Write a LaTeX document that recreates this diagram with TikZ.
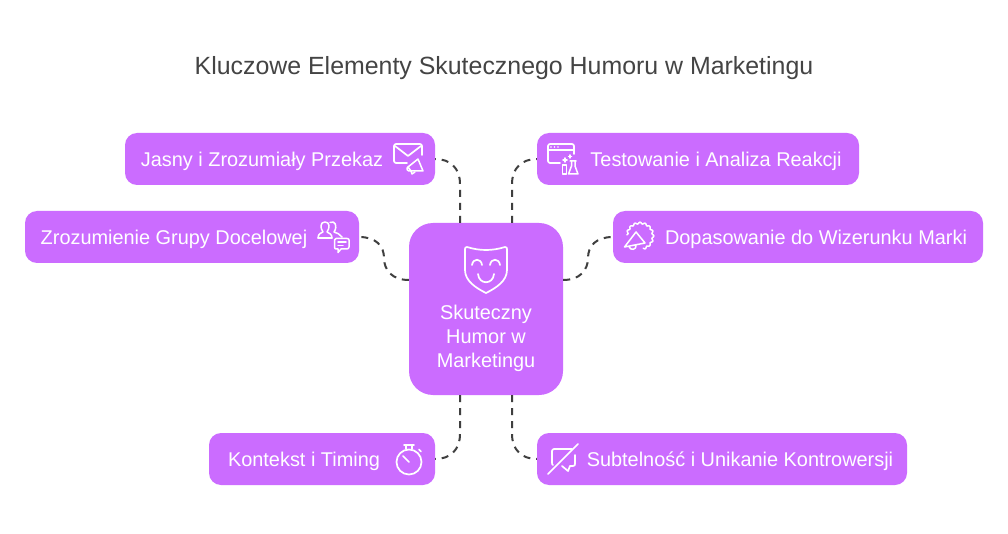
\documentclass[tikz,border=0pt]{standalone}
\usepackage{fontspec}
\setmainfont{Liberation Sans}
\definecolor{boxc}{HTML}{CB6CFF}
\definecolor{linec}{HTML}{3F3F3F}
\definecolor{titlec}{HTML}{444444}
\tikzset{
 box/.style={fill=boxc,draw=none,rounded corners=12pt,inner sep=0pt},
 centerbox/.style={fill=boxc,draw=none,rounded corners=24pt,inner sep=0pt,minimum width=154pt,minimum height=172pt},
 lbl/.style={text=white,font=\fontsize{19.9}{24}\selectfont,inner sep=0pt,anchor=center},
 conn/.style={draw=linec,line width=2pt,dash pattern=on 7pt off 6pt},
 ico/.style={draw=white,line width=1.7pt,line cap=round,line join=round,fill=none},
 ico2/.style={draw=white,line width=1.5pt,line cap=round,line join=round,fill=none},
}
\begin{document}
\begin{tikzpicture}[x=1pt,y=-1pt]
\useasboundingbox (0,0) rectangle (1008,534);
\fill[white] (0,0) rectangle (1008,534);
\node[text=titlec,font=\fontsize{24.9}{28}\selectfont,inner sep=0pt] (title) at (504,68.5) {Kluczowe Elementy Skutecznego Humoru w Marketingu};

\node[centerbox] (c) at (486,309) {};
\node[box,minimum width=310pt,minimum height=52pt] (a) at (280,159) {};
\node[box,minimum width=334pt,minimum height=52pt] (b) at (192,237) {};
\node[box,minimum width=322pt,minimum height=52pt] (d) at (698,159) {};
\node[box,minimum width=370pt,minimum height=52pt] (e) at (798,237) {};
\node[box,minimum width=226pt,minimum height=52pt] (f) at (322,459) {};
\node[box,minimum width=370pt,minimum height=52pt] (g) at (722,459) {};

\node[lbl,align=center,font=\fontsize{19.9}{24}\selectfont] (ct) at (486,338.5) {Skuteczny\\Humor w\\Marketingu};
\node[lbl] (at) at (262,161.5) {Jasny i Zrozumiały Przekaz};
\node[lbl] (bt) at (174,239.5) {Zrozumienie Grupy Docelowej};
\node[lbl] (dt) at (716,161.5) {Testowanie i Analiza Reakcji};
\node[lbl] (et) at (816,239.5) {Dopasowanie do Wizerunku Marki};
\node[lbl] (ft) at (304,461.5) {Kontekst i Timing};
\node[lbl] (gt) at (740,461.5) {Subtelność i Unikanie Kontrowersji};

% connectors
\coordinate (c1) at ([xshift=-26pt]c.north);
\coordinate (c2) at ([xshift=26pt]c.north);
\coordinate (c3) at ([xshift=-26pt]c.south);
\coordinate (c4) at ([xshift=26pt]c.south);
\coordinate (c5) at ([yshift=29pt]c.east);
\coordinate (c6) at ([yshift=29pt]c.west);
\draw[conn] (c1) -- (460,184) .. controls (460,168) and (450,159) .. (a.east);
\draw[conn] (c2) -- (512,184) .. controls (512,168) and (522,159) .. (d.west);
\draw[conn] (c3) -- (460,434) .. controls (460,450) and (450,459) .. (f.east);
\draw[conn] (c4) -- (512,434) .. controls (512,450) and (522,459) .. (g.west);
\draw[conn] (c6) .. controls (392,280) and (384,270) .. (384,258) .. controls (384,246) and (376,237) .. (b.east);
\draw[conn] (c5) .. controls (580,280) and (588,270) .. (588,258) .. controls (588,246) and (596,237) .. (e.west);

% mask
\begin{scope}[ico]
\draw (467,247) .. controls (480,251) and (492,251) .. (505,247) .. controls (506.5,247) and (507,248) .. (507,249) -- (507,270) .. controls (507,281) and (496,288) .. (486,293) .. controls (476,288) and (465,281) .. (465,270) -- (465,249) .. controls (465,248) and (465.5,247) .. (467,247) -- cycle;
\draw (472,265) .. controls (473,258) and (481,258) .. (482,265);
\draw (490,265) .. controls (491,258) and (499,258) .. (500,265);
\draw (478,274) .. controls (479,285) and (493,285) .. (494,274);
\end{scope}

% envelope + megaphone
\begin{scope}[ico]
\draw (407,163) -- (396,163) .. controls (395,163) and (394,162) .. (394,161) -- (394,146) .. controls (394,145) and (395,144) .. (396,144) -- (420,144) .. controls (421,144) and (422,145) .. (422,146) -- (422,155);
\draw (395,146) -- (408,156) -- (421,146);
\end{scope}
\begin{scope}[ico2]
\draw (408,167) -- (418,159) -- (423,171) -- (411,171) -- cycle;
\draw (408,167) .. controls (406,168) and (407,172) .. (411,171);
\draw (411,171) -- (412,174) -- (415,172);
\end{scope}

% browser + flask
\begin{scope}[ico]
\draw (560,163) -- (550,163) .. controls (549,163) and (548,162) .. (548,161) -- (548,146) .. controls (548,145) and (549,144) .. (550,144) -- (572,144) .. controls (573,144) and (574,145) .. (574,146) -- (574,154);
\draw (548,150) -- (574,150);
\end{scope}
\fill[white] (551,147) circle (.9pt) (554.5,147) circle (.9pt) (558,147) circle (.9pt);
\begin{scope}[ico2]
\draw (562.5,165) rectangle (566.5,174);
\draw (570,161) -- (576,161) (571.5,161) -- (571.5,166) -- (568.5,174) -- (578,174) -- (575,166) -- (575,161);
\draw (565,158) -- (565,162) (563,160) -- (567,160);
\draw (570,155) -- (570,158) (568.5,156.5) -- (571.5,156.5);
\end{scope}

% people + bubble
\begin{scope}[ico2]
\draw (318,238) -- (332,238);
\draw (318,238) .. controls (318,233) and (322,233) .. (323,232) .. controls (320,228) and (320,222) .. (325,222) .. controls (330,222) and (330,228) .. (327,232) .. controls (329,233) and (332,234) .. (332,238);
\draw (330,222.5) .. controls (335,220) and (338,226) .. (334,232) .. controls (337,233) and (340,234) .. (342,237);
\draw (336,238.5) -- (347,238.5) .. controls (348,238.5) and (349,239) .. (349,240) -- (349,247) .. controls (349,248) and (348,249) .. (347,249) -- (341,249) -- (338,252.5) -- (338,249) -- (336,249) .. controls (335,249) and (334.5,248) .. (334.5,247) -- (334.5,240) .. controls (334.5,239) and (335,238.5) .. (336,238.5);
\draw (338,242) -- (346,242) (338,245.5) -- (343,245.5);
\end{scope}

% burst megaphone
\begin{scope}[ico2]
\draw plot[smooth,samples=110,domain=-75:175,variable=\t] ({640+(13+.8*cos(16*\t))*cos(\t)},{236+(13+.8*cos(16*\t))*sin(-\t)});
\draw (636,232) -- (624.5,247) -- (645,243) -- cycle;
\draw (629,246.5) .. controls (630,251) and (637,250) .. (636,245);
\end{scope}

% stopwatch
\begin{scope}[ico]
\draw (409,462) circle (12.5pt);
\draw (403,456) -- (409,462);
\draw (406,449) -- (406,445) (412,449) -- (412,445) (404,445) -- (414,445);
\draw (419,449.5) -- (421,451.5);
\end{scope}

% no comment bubble
\begin{scope}[ico]
\draw (572,449) -- (554,449) .. controls (553,449) and (552,450) .. (552,451) -- (552,463) .. controls (552,464) and (552.5,465) .. (553,465);
\draw (562,466) -- (568,471) -- (570,466) -- (573,466) .. controls (574.5,466) and (575,465) .. (575,464) -- (575,455);
\draw (548,474) -- (578,444);
\end{scope}
\end{tikzpicture}
\end{document}
